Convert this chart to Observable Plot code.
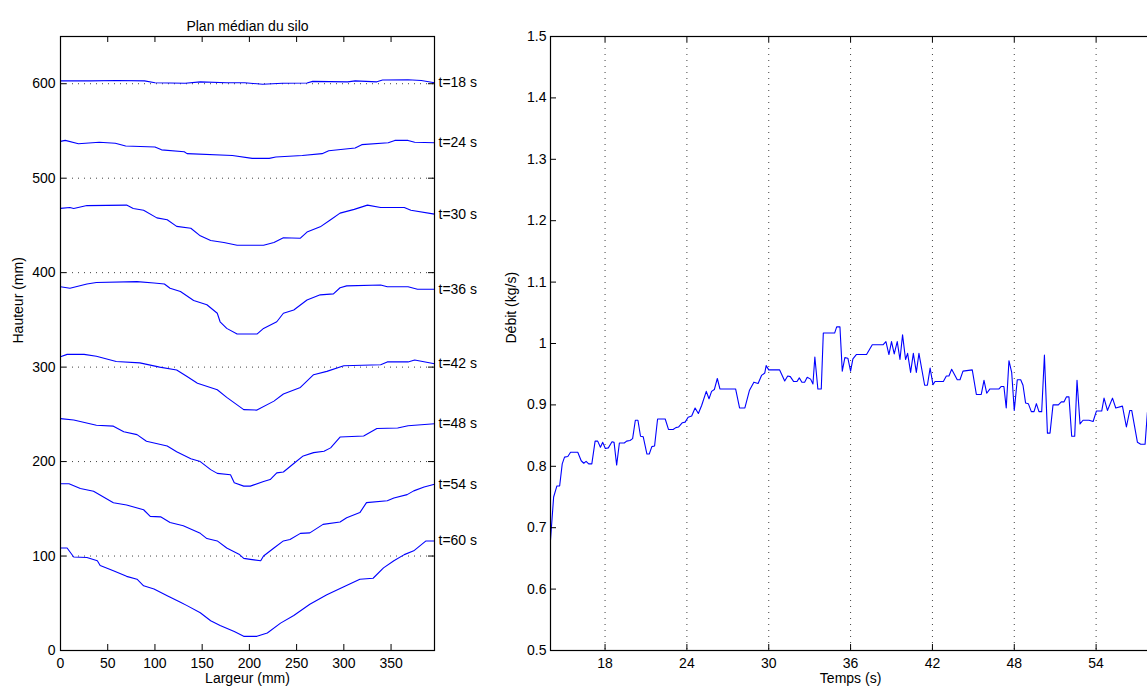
<!DOCTYPE html>
<html><head><meta charset="utf-8">
<script src="https://cdn.jsdelivr.net/npm/d3@7"></script>
<script src="https://cdn.jsdelivr.net/npm/@observablehq/plot@0.6"></script>
<style>
html,body{margin:0;padding:0;overflow:hidden;background:#fff;}
#wrap{position:relative;width:1147px;height:689px;overflow:hidden;background:#fff;}
#left{position:absolute;left:0;top:0;width:480px;}
#right{position:absolute;left:480px;top:0;width:687px;}
#wrap svg{max-width:none !important;}
</style></head>
<body><div id="wrap"><div id="left"></div><div id="right"></div></div>
<script>
// ---------- data: left panel (profiles, [largeur mm, hauteur mm]) ----------
const profileTimes = [18, 24, 30, 36, 42, 48, 54, 60];
const profileLabels = ["t=18 s", "t=24 s", "t=30 s", "t=36 s", "t=42 s", "t=48 s", "t=54 s", "t=60 s"];
const profile18 = [[0,603],[32,603],[60,603.5],[89,603],[100,601],[132,600.5],[148,602],[176,601],[195,601],[214,599.5],[235,600.5],[261,600.7],[267,602.5],[304,602],[312,603],[335,602],[341,604],[368,604.2],[382,603.5],[396,601]];
const profile24 = [[0,539],[5,540],[19,536.5],[41,538],[58,537],[69,534],[100,533],[107,530],[131,528],[134,526],[182,524],[203,521],[221,521],[228,522.5],[256,524],[277,526],[284,529],[312,532],[319,535.5],[347,537.5],[354,540],[368,540],[375,538],[396,537.5]];
const profile30 = [[0,468],[10,469],[14,468],[28,471],[70,471.5],[77,468],[88,466],[102,458],[113,456],[123,449],[138,447],[148,439],[159,434],[173,432],[187,429],[215,429],[226,432],[236,437],[254,436.5],[261,443],[275,448.5],[286,456],[296,463],[311,467],[325,471.5],[339,469],[364,469],[371,466],[396,462]];
const profile36 = [[0,385],[10,383.5],[28,388],[38,389.5],[81,390.5],[99,389],[110,388],[116,383.5],[127,380],[141,370.5],[155,366],[166,357],[169,348],[176,341],[187,335],[208,335],[215,341],[229,348],[236,357],[247,360.5],[261,371],[275,376.5],[289,377.5],[296,384],[303,386],[339,387],[346,385],[368,385],[378,382.5],[396,382.5]];
const profile42 = [[0,311],[7,313.5],[25,313.5],[38,311.5],[59,306],[84,304.5],[105,300],[123,297],[134,290],[145,283],[166,276],[176,268],[194,255],[208,254.5],[226,264],[236,271.5],[254,278.5],[268,292],[282,295.5],[300,301.5],[339,302.5],[346,305.5],[368,305.5],[375,307.5],[396,303.5]];
const profile48 = [[0,245.5],[14,244],[38,238.5],[56,237.5],[67,231.5],[81,228.5],[91,221.5],[113,216.5],[123,210.5],[138,203],[148,200],[159,191.5],[166,187.5],[180,186],[184,177.5],[194,174],[201,174],[215,179],[222,181],[229,188],[236,189],[247,198],[257,206],[268,209.5],[279,211],[286,214.5],[296,226],[321,227],[335,235],[357,235.5],[368,238],[396,240]];
const profile54 = [[0,176.5],[9,176.5],[21,171.5],[35,168.5],[56,156.5],[70,154],[88,149],[95,142],[106,141.5],[116,135.5],[130,132],[148,124],[155,118.5],[166,116],[176,108.5],[189,102],[194,97.5],[201,96.5],[212,95],[215,100],[226,108.5],[236,116],[243,117.5],[254,124],[264,124.5],[278,133.5],[296,136],[303,140.5],[317,146],[324,156.5],[346,158.5],[353,161.5],[367,165],[374,169],[385,173],[396,176]];
const profile60 = [[0,108.5],[7,108.5],[14,99],[28,98.5],[39,95],[42,90],[56,84.5],[70,78.5],[81,75.5],[88,68.5],[99,65],[113,58],[127,51],[134,47.5],[148,40],[159,31.5],[169,26.5],[184,20],[194,15],[208,15],[219,18.5],[233,29],[247,37],[264,49],[282,59],[300,67.5],[317,75.5],[331,76.5],[342,87.5],[353,95],[364,101.5],[374,105.5],[387,116],[396,116]];
const profiles = [profile18, profile24, profile30, profile36, profile42, profile48, profile54, profile60];
const widthTicks = [0, 50, 100, 150, 200, 250, 300, 350];
const heightTicks = [0, 100, 200, 300, 400, 500, 600];
const heightGrid = [100, 200, 300, 400, 500, 600];

// ---------- data: right panel (débit vs temps) ----------
const debitTime = [14.0,14.23,14.47,14.67,14.86,15.03,15.27,15.47,16.0,16.25,16.44,16.61,16.8,17.03,17.27,17.46,17.66,17.83,18.02,18.24,18.51,18.66,18.85,19.05,19.41,19.58,19.83,20.02,20.22,20.41,20.6,20.8,21.07,21.24,21.43,21.63,21.85,22.41,22.65,22.99,23.19,23.38,23.67,23.87,24.09,24.35,24.6,24.84,25.08,25.42,25.62,25.81,26.01,26.23,26.42,27.57,27.86,28.25,28.59,28.91,29.22,29.47,29.71,29.81,30.0,30.8,31.17,31.39,31.58,31.83,32.07,32.24,32.43,32.63,32.82,33.07,33.24,33.38,33.6,33.85,34.0,34.83,34.98,35.22,35.39,35.58,35.8,36.0,36.17,36.42,37.17,37.59,38.39,38.59,38.81,39.0,39.2,39.42,39.62,39.81,40.03,40.18,40.4,40.6,40.82,41.01,41.43,41.63,41.83,42.04,42.19,42.8,43.02,43.21,43.41,43.82,44.02,44.24,44.92,45.22,45.58,45.78,45.98,46.22,46.88,47.05,47.24,47.41,47.61,47.81,48.0,48.22,48.47,48.64,48.83,49.03,49.25,49.45,49.62,49.81,50.01,50.21,50.43,50.62,50.84,51.23,51.45,51.65,51.82,52.01,52.21,52.43,52.6,52.82,53.04,53.48,53.78,54.02,54.41,54.58,54.83,55.2,55.44,55.93,56.22,56.47,56.61,57.03,57.27,57.59,57.76,58.0];
const debitValue = [0.68,0.75,0.768,0.768,0.804,0.815,0.816,0.823,0.823,0.809,0.805,0.808,0.804,0.804,0.841,0.841,0.831,0.839,0.829,0.830,0.840,0.839,0.802,0.838,0.838,0.841,0.842,0.845,0.875,0.875,0.849,0.848,0.820,0.820,0.832,0.833,0.877,0.877,0.860,0.860,0.863,0.864,0.871,0.872,0.880,0.882,0.895,0.886,0.899,0.922,0.910,0.922,0.925,0.943,0.926,0.926,0.895,0.895,0.924,0.937,0.935,0.948,0.952,0.964,0.957,0.957,0.939,0.947,0.946,0.938,0.938,0.944,0.937,0.937,0.945,0.942,0.934,0.978,0.926,0.926,1.017,1.017,1.027,1.027,0.955,0.977,0.976,0.955,0.975,0.982,0.982,0.998,0.998,1.003,0.982,1.003,0.983,1.003,0.974,1.014,0.974,0.984,0.953,0.984,0.953,0.984,0.932,0.932,0.960,0.933,0.938,0.938,0.947,0.947,0.958,0.941,0.941,0.955,0.957,0.917,0.917,0.940,0.919,0.926,0.926,0.930,0.930,0.895,0.972,0.953,0.891,0.941,0.941,0.932,0.903,0.902,0.889,0.889,0.902,0.889,0.889,0.981,0.854,0.854,0.900,0.900,0.905,0.905,0.913,0.913,0.849,0.849,0.940,0.869,0.875,0.875,0.873,0.890,0.890,0.911,0.891,0.911,0.895,0.898,0.864,0.891,0.891,0.839,0.836,0.836,0.888,0.89];
const timeTicks = [18, 24, 30, 36, 42, 48, 54];
const debitTicks = [0.5, 0.6, 0.7, 0.8, 0.9, 1.0, 1.1, 1.2, 1.3, 1.4, 1.5];

// ---------- shared style ----------
const FONT = "'Liberation Sans', Arial, Helvetica, sans-serif";
const BLUE = "#0000ff";
const GRID = {stroke: "#000", strokeOpacity: 0.75, strokeDasharray: "1,5"};
const TICK = 6;

// ---------- left panel ----------
const LW = 480, LH = 689, LM = {top: 36, right: 46, bottom: 39, left: 60};
const lfw = LW - LM.left - LM.right, lfh = LH - LM.top - LM.bottom;
const profileRows = profiles.flatMap((p, i) => p.map(([x, y]) => ({t: profileTimes[i], x, y})));
const labelRows = profiles.map((p, i) => ({label: profileLabels[i], y: p[p.length - 1][1]}));

const left = Plot.plot({
  width: LW, height: LH,
  marginTop: LM.top, marginRight: LM.right, marginBottom: LM.bottom, marginLeft: LM.left,
  style: {fontFamily: FONT, fontSize: "14px", color: "#000", background: "#fff", overflow: "visible", maxWidth: "none"},
  x: {domain: [0, 396]},
  y: {domain: [0, 650]},
  marks: [
    Plot.ruleY(heightGrid, {y: d => d, ...GRID}),
    Plot.line(profileRows, {x: "x", y: "y", z: "t", stroke: BLUE, strokeWidth: 1.1}),
    Plot.frame({stroke: "#000", strokeWidth: 1.2}),
    Plot.ruleY(heightTicks, {y: d => d, insetRight: lfw - TICK, stroke: "#000"}),
    Plot.ruleY(heightTicks, {y: d => d, insetLeft: lfw - TICK, stroke: "#000"}),
    Plot.ruleX(widthTicks, {x: d => d, insetTop: lfh - TICK, stroke: "#000"}),
    Plot.ruleX(widthTicks, {x: d => d, insetBottom: lfh - TICK, stroke: "#000"}),
    Plot.axisX({ticks: widthTicks, tickSize: 0, tickPadding: 8, label: null, fontSize: 14}),
    Plot.axisY({ticks: heightTicks, tickSize: 0, tickPadding: 5, label: null, fontSize: 14}),
    Plot.text(["Largeur (mm)"], {text: d => d, frameAnchor: "bottom", dy: 32, fontSize: 14}),
    Plot.text(["Hauteur (mm)"], {text: d => d, frameAnchor: "left", dx: -42, rotate: -90, fontSize: 14}),
    Plot.text(["Plan médian du silo"], {text: d => d, frameAnchor: "top", dy: -15, fontSize: 14}),
    Plot.text(labelRows, {y: "y", text: "label", frameAnchor: "right", textAnchor: "start", dx: 4, fontSize: 14})
  ]
});
document.getElementById("left").appendChild(left);

// ---------- right panel ----------
const RW = 687, RH = 689, RM = {top: 36, right: 10, bottom: 39, left: 70};
const rfw = RW - RM.left - RM.right, rfh = RH - RM.top - RM.bottom;
const debitRows = debitTime.map((t, i) => ({t, v: debitValue[i]}));

const right = Plot.plot({
  width: RW, height: RH,
  marginTop: RM.top, marginRight: RM.right, marginBottom: RM.bottom, marginLeft: RM.left,
  style: {fontFamily: FONT, fontSize: "14px", color: "#000", background: "#fff", overflow: "visible", maxWidth: "none"},
  x: {domain: [14, 58.5]},
  y: {domain: [0.5, 1.5]},
  marks: [
    Plot.ruleX(timeTicks, {x: d => d, ...GRID}),
    Plot.line(debitRows, {x: "t", y: "v", stroke: BLUE, strokeWidth: 1.1}),
    Plot.frame({stroke: "#000", strokeWidth: 1.2}),
    Plot.ruleY(debitTicks, {y: d => d, insetRight: rfw - TICK, stroke: "#000"}),
    Plot.ruleX(timeTicks, {x: d => d, insetTop: rfh - TICK, stroke: "#000"}),
    Plot.ruleX(timeTicks, {x: d => d, insetBottom: rfh - TICK, stroke: "#000"}),
    Plot.axisX({ticks: timeTicks, tickSize: 0, tickPadding: 8, label: null, fontSize: 14}),
    Plot.axisY({ticks: debitTicks, tickSize: 0, tickPadding: 4, label: null, fontSize: 14,
      tickFormat: d => String(+d.toFixed(1))}),
    Plot.text(["Temps (s)"], {text: d => d, x: 36, frameAnchor: "bottom", dy: 32, fontSize: 14}),
    Plot.text(["Débit (kg/s)"], {text: d => d, frameAnchor: "left", dx: -39, rotate: -90, fontSize: 14})
  ]
});
document.getElementById("right").appendChild(right);
</script>
</body></html>
